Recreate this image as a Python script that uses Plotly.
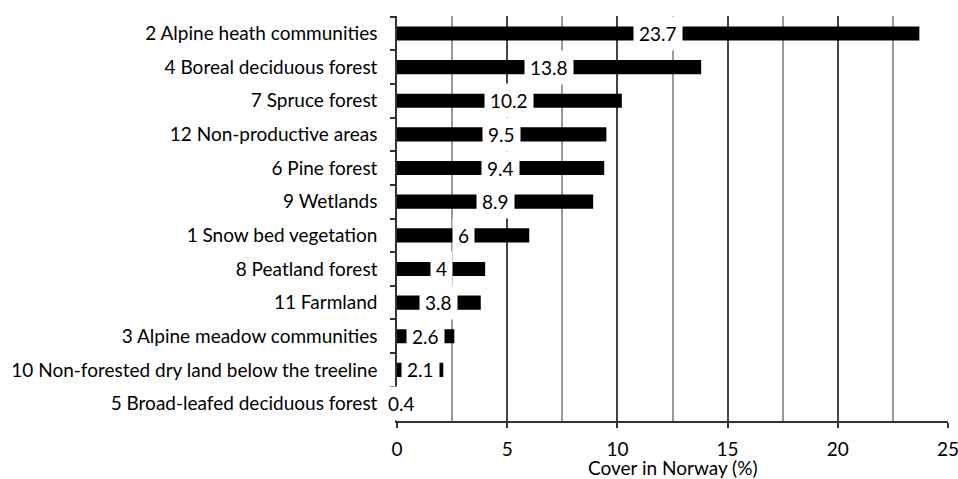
import plotly.graph_objects as go

categories = [
    "2 Alpine heath communities",
    "4 Boreal deciduous forest",
    "7 Spruce forest",
    "12 Non-productive areas",
    "6 Pine forest",
    "9 Wetlands",
    "1 Snow bed vegetation",
    "8 Peatland forest",
    "11 Farmland",
    "3 Alpine meadow communities",
    "10 Non-forested dry land below the treeline",
    "5 Broad-leafed deciduous forest",
]
values = [23.7, 13.8, 10.2, 9.5, 9.4, 8.9, 6, 4, 3.8, 2.6, 2.1, 0.4]
labels = ["23.7", "13.8", "10.2", "9.5", "9.4", "8.9", "6", "4", "3.8", "2.6", "2.1", "0.4"]
x_title = "Cover in Norway (%)"

FONT = "Lato, Open Sans, sans-serif"
FS = 19

fig = go.Figure()
fig.add_trace(go.Bar(
    y=categories, x=values, orientation="h",
    marker=dict(color="black", line=dict(width=0)),
    width=0.42, hoverinfo="skip",
))

for c, v, t in zip(categories, values, labels):
    fig.add_annotation(
        x=v / 2, y=c, text=t, showarrow=False,
        bgcolor="white", borderpad=5,
        font=dict(family=FONT, size=FS, color="black"),
    )

fig.add_annotation(
    x=0.5, y=0, xref="paper", yref="paper", text=x_title, showarrow=False,
    xanchor="center", yanchor="middle", yshift=-46,
    font=dict(family=FONT, size=FS, color="black"),
)

fig.update_layout(
    width=958, height=479,
    margin=dict(l=397, r=10, t=16, b=58, autoexpand=False),
    plot_bgcolor="white", paper_bgcolor="white",
    showlegend=False,
    font=dict(family=FONT, size=FS, color="black"),
    xaxis=dict(
        range=[0, 25], dtick=5, tick0=0, automargin=False,
        showgrid=True, gridcolor="#444444", gridwidth=1.5,
        minor=dict(dtick=2.5, showgrid=True, gridcolor="#999999", gridwidth=1.5,
                   ticks=""),
        zeroline=False,
        showline=True, linecolor="#333333", linewidth=1.5,
        ticks="outside", ticklen=5, tickcolor="#333333", tickwidth=1.5,
        ticklabelstandoff=5, ticklabeloverflow="allow",
        tickfont=dict(family=FONT, size=FS, color="black"),
    ),
    yaxis=dict(
        autorange="reversed", automargin=False,
        showline=True, linecolor="#333333", linewidth=1.5,
        ticks="outside", ticklen=5, tickcolor="#333333", tickwidth=1.5,
        tickson="boundaries",
        showgrid=False, zeroline=False,
        ticklabelstandoff=14,
        tickfont=dict(family=FONT, size=FS, color="black"),
    ),
)

fig.write_html(
    "out.html",
    config={"displayModeBar": False},
    post_script="document.body.style.margin='0';document.body.style.overflow='hidden';",
)
